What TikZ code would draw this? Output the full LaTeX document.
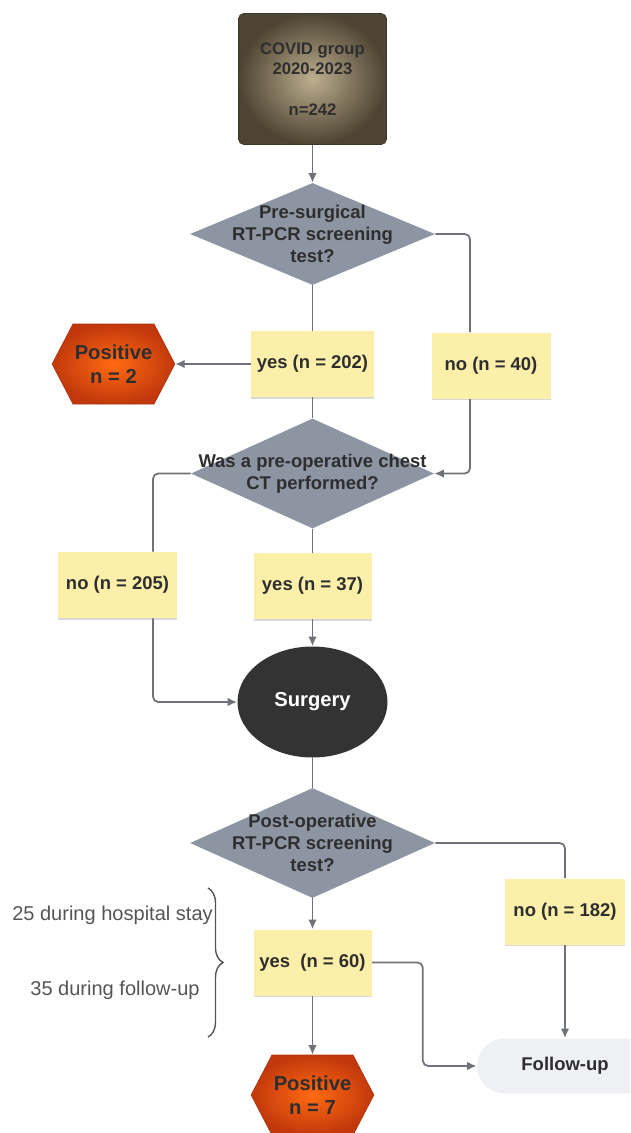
\documentclass[tikz,border=0pt]{standalone}
\usepackage{fontspec}
\setmainfont{Liberation Sans}
\usepackage{tikz}
\usetikzlibrary{shapes.geometric, shapes.symbols, arrows.meta, positioning, backgrounds, decorations.pathreplacing, shadows}

\definecolor{txtdark}{HTML}{2E2E2E}
\definecolor{linegray}{HTML}{6F7278}
\definecolor{condgray}{HTML}{8D95A3}
\definecolor{notefill}{HTML}{FBEFA9}
\definecolor{startin}{HTML}{BCAE8E}
\definecolor{startout}{HTML}{4E4433}
\definecolor{posin}{HTML}{FF6A12}
\definecolor{posout}{HTML}{C2380C}
\definecolor{surgfill}{HTML}{333333}
\definecolor{followfill}{HTML}{EEF0F3}
\definecolor{sidegray}{HTML}{555555}

\begin{document}
\begin{tikzpicture}[
  every node/.style={font=\fontsize{10.5}{12.5}\selectfont\bfseries, text=txtdark},
  start/.style={
    rectangle, rounded corners=3pt,
    draw=startout!80!black, inner color=startin, outer color=startout,
    minimum width=2.96cm, minimum height=2.62cm,
    align=center, font=\fontsize{9.5}{11.5}\selectfont\bfseries},
  cond/.style={
    diamond, fill=condgray, inner sep=0pt,
    minimum width=4.9cm, minimum height=2.2cm},
  condtext/.style={align=center, inner sep=0pt},
  note/.style={
    rectangle, fill=notefill,
    drop shadow={shadow xshift=0pt, shadow yshift=-1pt, opacity=0.3},
    minimum width=2.36cm, minimum height=1.32cm,
    align=center},
  posbox/.style={
    signal, signal to=west and east, signal pointer angle=125,
    draw=posout!90!black, inner color=posin, outer color=posout,
    minimum width=2.36cm, minimum height=1.6cm, inner sep=1pt,
    align=center, font=\fontsize{11.5}{13.5}\selectfont\bfseries},
  surg/.style={
    ellipse, fill=surgfill,
    minimum width=3.0cm, minimum height=2.22cm,
    text=white, font=\fontsize{11.5}{13.5}\selectfont\bfseries},
  follow/.style={
    rectangle, rounded corners=0.55cm, fill=followfill,
    minimum width=3.52cm, minimum height=1.1cm},
  side/.style={font=\fontsize{11.4}{13.5}\selectfont, text=sidegray},
  line/.style={draw=linegray, line width=1pt, rounded corners=3pt},
  arr/.style={
    -{Latex[length=1.9mm,width=1.7mm]},
    draw=linegray, line width=1pt, rounded corners=3pt},
  brc/.style={
    draw=sidegray, line width=0.8pt,
    decorate, decoration={brace, amplitude=0.3cm, aspect=0.5}},
]

\useasboundingbox (0,0) rectangle (12.6,-22.66);
\clip (0,0) rectangle (12.6,-22.66);

\node[start] (cohort) at (6.25, -1.58)
  {COVID group\\2020-2023\\[12pt]n=242};

\node[cond, label={[condtext]center:{Pre-surgical\\RT-PCR screening\\test?}}]
  (preq) at (6.25, -4.68) [minimum height=2.04cm] {};

\node[note] (preyes) at (6.25, -7.28) {yes (n = 202)};
\node[posbox] (prepos) at (2.27, -7.28) [minimum width=2.38cm] {Positive\\n = 2};
\node[note] (preno)  at (9.82, -7.31) [minimum width=2.38cm] {no (n = 40)};

\node[cond, label={[condtext]center:{Was a pre-operative chest\\CT performed?}}]
  (ctq) at (6.25, -9.47) [minimum width=4.86cm] {};

\node[note] (ctno)  at (2.35, -11.7) [minimum width=2.38cm] {no (n = 205)};
\node[note] (ctyes) at (6.25, -11.72) {yes (n = 37)};

\node[surg] (surgery) at (6.25, -14.04) {Surgery};

\node[cond, label={[condtext]center:{Post-operative\\RT-PCR screening\\test?}}]
  (postq) at (6.25, -16.86) {};

\node[note] (postyes) at (6.25, -19.25) {yes\ \ (n = 60)};
\node[note] (postno)  at (11.3, -18.23) [minimum width=2.4cm] {no (n = 182)};
\node[posbox] (postpos) at (6.25, -21.9) {Positive\\n = 7};
\node[follow] (fup)   at (11.3, -21.32) {Follow-up};

% split of the 60 positives
\node[side] (stay) at (2.25, -18.3) {25 during hospital stay};
\node[side] (fol)  at (2.3, -19.8) {35 during follow-up};
\coordinate (btop) at (4.16, -17.76);
\coordinate (bbot) at (4.16, -20.74);
\draw[brc] (btop) -- (bbot);

\begin{scope}[on background layer]
  \draw[arr]  (cohort.south) -- (preq.north);
  \draw[line] (preq.south) -- (preyes.north);
  \draw[arr]  (preyes.west) -- (prepos.east);
  \draw[line] (preyes.south) -- (ctq.north);
  \draw[line] (preq.east) -| ([xshift=-0.42cm]preno.north);
  \draw[arr]  ([xshift=-0.42cm]preno.south) |- (ctq.east);

  \draw[line] (ctq.west) -| ([xshift=0.71cm]ctno.north);
  \draw[arr]  ([xshift=0.71cm]ctno.south) |- (surgery.west);
  \draw[line] (ctq.south) -- (ctyes.north);
  \draw[arr]  (ctyes.south) -- (surgery.north);

  \draw[line] (surgery.south) -- (postq.north);
  \draw[arr]  (postq.south) -- (postyes.north);
  \draw[arr]  (postyes.south) -- (postpos.north);
  \draw[line] (postq.east) -| (postno.north);
  \draw[arr]  (postno.south) -- (fup.north);
  \draw[arr]  (postyes.east) -- ++(1.02,0) |- (fup.west);
\end{scope}

\end{tikzpicture}
\end{document}
